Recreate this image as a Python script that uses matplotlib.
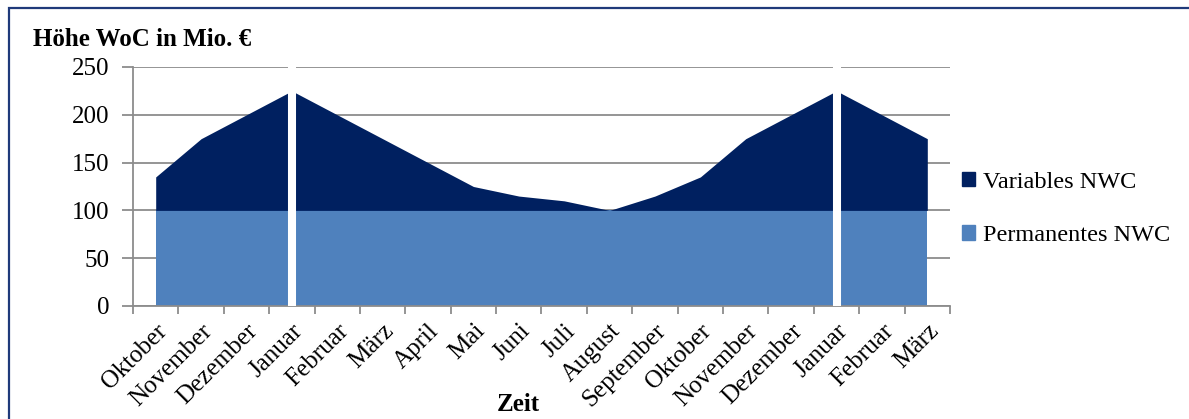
import matplotlib.pyplot as plt
from matplotlib.patches import Patch, Rectangle
import numpy as np

plt.rcParams['font.family'] = ['Liberation Serif', 'DejaVu Serif']

monate = ['Oktober', 'November', 'Dezember', 'Januar', 'Februar', 'März',
          'April', 'Mai', 'Juni', 'Juli', 'August', 'September',
          'Oktober', 'November', 'Dezember', 'Januar', 'Februar', 'März']
permanent = [100] * 18
gesamt = [135, 175, 200, 225, 200, 175, 150, 125, 115, 110, 100, 115,
          135, 175, 200, 225, 200, 175]
jahreswechsel = [3, 15]   # Januar-Positionen, dort weisse Trennlinie

dunkel = '#002060'
hell = '#4f81bd'
grau = '#8c8c8c'

fig = plt.figure(figsize=(11.89, 4.19), dpi=100)
ax = fig.add_axes([133 / 1189, 1 - 306 / 419, 817 / 1189, 239 / 419])

x = np.arange(len(monate))
ax.fill_between(x, 0, permanent, color=hell, lw=0, zorder=2)
ax.fill_between(x, permanent, gesamt, color=dunkel, lw=0, zorder=2)
ax.vlines(jahreswechsel, 0, 250, color='white', lw=5.8, zorder=3)

ax.set_xlim(-0.5, len(monate) - 0.5)
ax.set_ylim(0, 250)
ax.set_yticks(range(0, 251, 50))
ax.yaxis.grid(True, color=grau, lw=1.3, zorder=0)
ax.set_axisbelow(True)

ax.set_xticks(x)
ax.set_xticklabels(monate, rotation=45, ha='right', rotation_mode='anchor')
ax.set_xticks(np.arange(-0.5, len(monate)), minor=True)
ax.tick_params(axis='x', which='major', length=0, pad=10, labelsize=18)
ax.tick_params(axis='x', which='minor', length=6, width=1.3, color=grau)
ax.tick_params(axis='y', length=8, width=1.3, color=grau, pad=9, labelsize=18)

for s in ['top', 'right']:
    ax.spines[s].set_visible(False)
for s in ['left', 'bottom']:
    ax.spines[s].set_color(grau)
    ax.spines[s].set_linewidth(1.3)

fig.text(33 / 1189, 1 - 40 / 419, 'Höhe WoC in Mio. €', fontsize=18,
         fontweight='bold', va='center', ha='left')
fig.text(518 / 1189, 1 - 404 / 419, 'Zeit', fontsize=18,
         fontweight='bold', va='center', ha='center')

handles = [Patch(color=dunkel, label='Variables NWC'),
           Patch(color=hell, label='Permanentes NWC')]
fig.legend(handles=handles, loc='center left', bbox_to_anchor=(940 / 1189, 1 - 209 / 419),
           frameon=False, fontsize=17.5, handlelength=0.55, handleheight=0.55,
           handletextpad=0.3, labelspacing=1.35)

# Rahmen um das Diagramm
fig.add_artist(Rectangle((9 / 1189, -0.05), 1.2, 1 - 8 / 419 + 0.05,
                         transform=fig.transFigure, fill=False,
                         edgecolor='#1f3a7a', lw=1.6))

fig.savefig('out.png', dpi=100)
